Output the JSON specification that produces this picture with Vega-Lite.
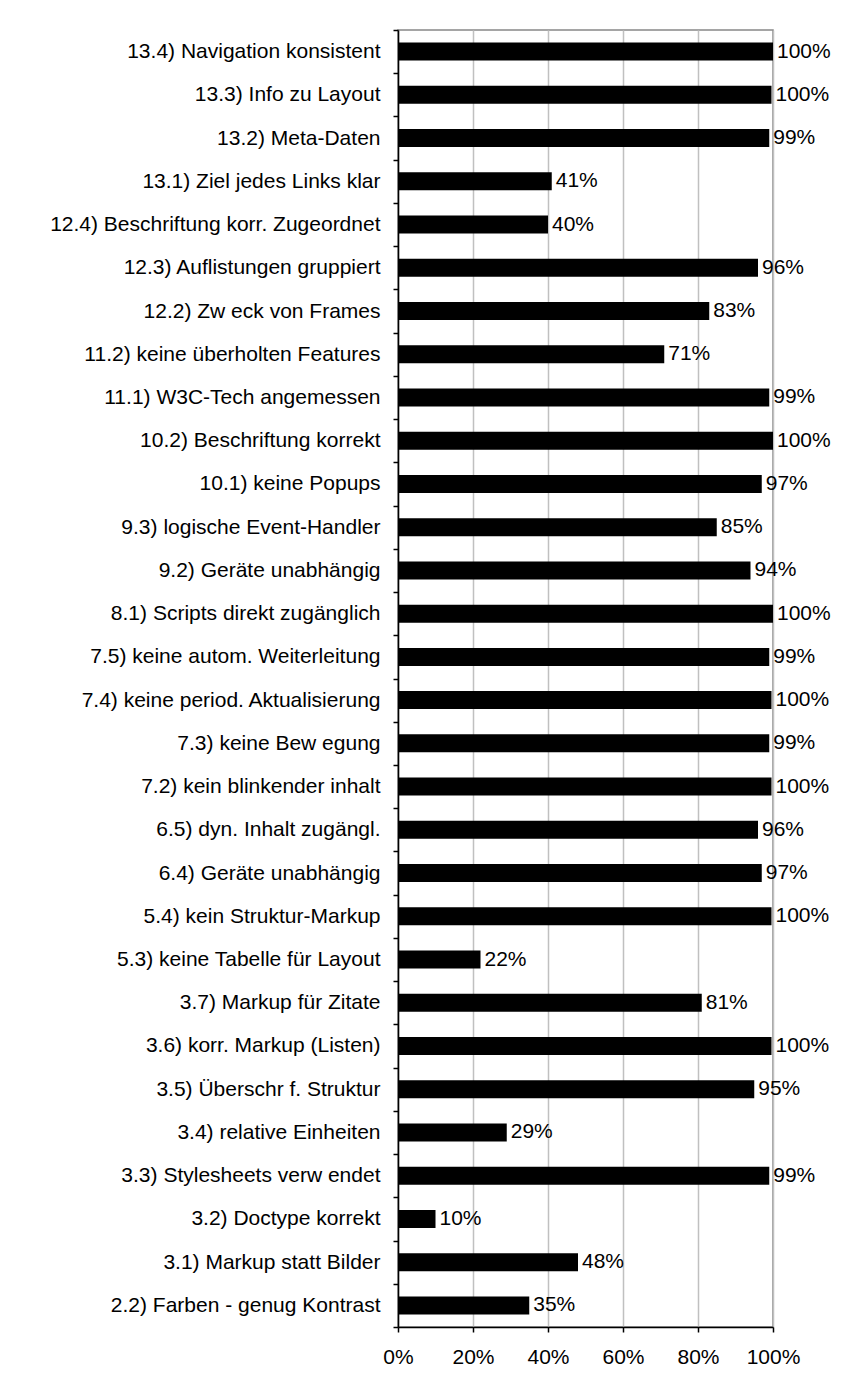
{
  "$schema": "https://vega.github.io/schema/vega-lite/v6.json",
  "width": 375,
  "height": 1297,
  "autosize": {"type": "none"},
  "padding": {"left": 398, "top": 30, "right": 84, "bottom": 47},
  "background": "white",
  "config": {
    "font": "Liberation Sans",
    "view": {"stroke": "#888888", "strokeWidth": 1.5},
    "axis": {"labelFont": "Liberation Sans", "labelColor": "black", "domainColor": "black", "tickColor": "black", "labelFontSize": 21}
  },
  "data": {"values": [
    {"item": "13.4) Navigation konsistent", "value": 1.0},
    {"item": "13.3) Info zu Layout", "value": 0.996},
    {"item": "13.2) Meta-Daten", "value": 0.99},
    {"item": "13.1) Ziel jedes Links klar", "value": 0.41},
    {"item": "12.4) Beschriftung korr. Zugeordnet", "value": 0.40},
    {"item": "12.3) Auflistungen gruppiert", "value": 0.96},
    {"item": "12.2) Zw eck von Frames", "value": 0.83},
    {"item": "11.2) keine überholten Features", "value": 0.71},
    {"item": "11.1) W3C-Tech angemessen", "value": 0.99},
    {"item": "10.2) Beschriftung korrekt", "value": 1.0},
    {"item": "10.1) keine Popups", "value": 0.97},
    {"item": "9.3) logische Event-Handler", "value": 0.85},
    {"item": "9.2) Geräte unabhängig", "value": 0.94},
    {"item": "8.1) Scripts direkt zugänglich", "value": 1.0},
    {"item": "7.5) keine autom. Weiterleitung", "value": 0.99},
    {"item": "7.4) keine period. Aktualisierung", "value": 0.996},
    {"item": "7.3) keine Bew egung", "value": 0.99},
    {"item": "7.2) kein blinkender inhalt", "value": 0.996},
    {"item": "6.5) dyn. Inhalt zugängl.", "value": 0.96},
    {"item": "6.4) Geräte unabhängig ", "value": 0.97},
    {"item": "5.4) kein Struktur-Markup", "value": 0.996},
    {"item": "5.3) keine Tabelle für Layout", "value": 0.22},
    {"item": "3.7) Markup für Zitate", "value": 0.81},
    {"item": "3.6) korr. Markup (Listen)", "value": 0.996},
    {"item": "3.5) Überschr f. Struktur", "value": 0.95},
    {"item": "3.4) relative Einheiten", "value": 0.29},
    {"item": "3.3) Stylesheets verw endet", "value": 0.99},
    {"item": "3.2) Doctype korrekt", "value": 0.10},
    {"item": "3.1) Markup statt Bilder", "value": 0.48},
    {"item": "2.2) Farben - genug Kontrast", "value": 0.35}
  ]},
  "encoding": {
    "y": {
      "field": "item", "type": "nominal", "sort": null,
      "scale": {"paddingInner": 0, "paddingOuter": 0},
      "axis": {"title": null, "tickBand": "extent", "tickSize": 5, "labelPadding": 13, "domainWidth": 1.5, "tickWidth": 1.5, "labelLimit": 400}
    },
    "x": {
      "field": "value", "type": "quantitative",
      "scale": {"domain": [0, 1], "nice": false},
      "axis": {"title": null, "format": ".0%", "values": [0, 0.2, 0.4, 0.6, 0.8, 1], "grid": true, "gridColor": "#c0c0c0", "gridWidth": 1.5, "tickSize": 5, "labelPadding": 14, "domainWidth": 1.5, "tickWidth": 1.5, "labelFlush": false}
    }
  },
  "layer": [
    {"mark": {"type": "bar", "color": "black", "size": 18}},
    {"mark": {"type": "text", "align": "left", "baseline": "middle", "dx": 4, "fontSize": 21, "font": "Liberation Sans", "color": "black"},
     "encoding": {"text": {"field": "value", "type": "quantitative", "format": ".0%"}}}
  ]
}
